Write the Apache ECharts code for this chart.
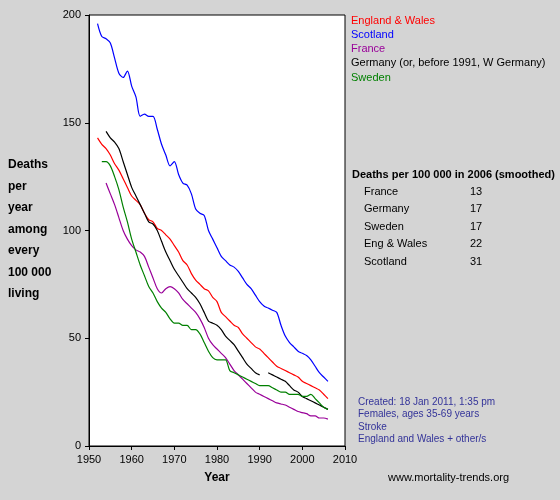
<!DOCTYPE html>
<html>
<head>
<meta charset="utf-8">
<script src="https://cdn.jsdelivr.net/npm/echarts@6/dist/echarts.min.js"></script>
<style>
  body { margin: 0; background: #d4d4d4; }
  #chart { width: 560px; height: 500px; }
</style>
</head>
<body>
<div id="chart"></div>
<script>
const years = [];
for (let y = 1952; y <= 2006; y++) years.push(y);

// values from 1952 to 2006, null where no data
const scotland = [196, 190, 189, 187, 180, 173, 171, 174, 167, 162, 153, 154, 153, 153, 147, 140, 135, 130, 132, 126, 122, 121, 117, 110, 108, 107, 100, 96, 92, 88, 86, 84, 83, 81, 78, 75, 73, 70, 67, 65, 64, 63, 62, 56, 51, 48, 46, 44, 43, 42, 40, 37, 34, 32, 30];
const englandWales = [143, 140, 138, 135, 131, 128, 124, 120, 116, 114, 112, 108, 105, 104, 101, 100, 98, 96, 93, 90, 86, 84, 80, 77, 75, 73, 72, 69, 67, 62, 60, 58, 56, 55, 52, 50, 48, 46, 45, 43, 41, 39, 37, 36, 35, 34, 33, 32, 30, 29, 28, 27, 26, 24, 22];
const germany = [null, null, 146, 143, 141, 138, 132, 126, 120, 116, 112, 108, 104, 103, 100, 95, 90, 86, 82, 79, 76, 73, 71, 69, 66, 62, 58, 57, 56, 54, 51, 49, 47, 44, 41, 38, 36, 34, 33, null, 34, 33, 32, 31, 30, 28, 26, 25, 23, 22, 21, 20, 19, 18, 17];
const sweden = [null, 132, 132, 130, 125, 119, 111, 104, 96, 90, 84, 79, 74, 71, 67, 64, 62, 59, 57, 57, 56, 56, 54, 54, 52, 48, 44, 41, 40, 40, 40, 35, 34, 33, 32, 31, 30, 29, 28, 28, 28, 27, 26, 25, 25, 24, 24, 24, 23, 23, 24, 22, 20, 18, 17];
const france = [null, null, 122, 117, 112, 106, 100, 96, 93, 91, 90, 88, 83, 78, 73, 71, 73, 74, 73, 71, 68, 66, 64, 62, 59, 55, 50, 47, 45, 43, 41, 38, 35, 33, 31, 29, 27, 25, 24, 23, 22, 21, 20, 19.5, 19, 18, 17, 16, 15.5, 15, 14, 14, 13, 13, 12.5];

const legendNames = ["England & Wales", "Scotland", "France", "Germany (or, before 1991, W Germany)", "Sweden"];
const legendColors = ["#ff0000", "#0000ff", "#990099", "#000000", "#008000"];
const tableNames = ["France", "Germany", "Sweden", "Eng & Wales", "Scotland"];
const tableValues = [13, 17, 17, 22, 31];
const notes = ["Created: 18 Jan 2011, 1:35 pm", "Females, ages 35-69 years", "Stroke", "England and Wales + other/s"];

const seriesData = [englandWales, scotland, france, germany, sweden];
const chart = echarts.init(document.getElementById("chart"));

const graphics = [];
legendNames.forEach((n, i) => {
  graphics.push({ type: "text", left: 351, top: 15 + i * 14.3,
    style: { text: n, fill: legendColors[i], font: "11px Arial" } });
});
graphics.push({ type: "text", left: 352, top: 169,
  style: { text: "Deaths per 100 000 in 2006 (smoothed)", fill: "#000", font: "bold 11px Arial" } });
tableNames.forEach((n, i) => {
  graphics.push({ type: "text", left: 364, top: 186 + i * 17.5, style: { text: n, fill: "#000", font: "11px Arial" } });
  graphics.push({ type: "text", left: 470, top: 186 + i * 17.5, style: { text: String(tableValues[i]), fill: "#000", font: "11px Arial" } });
});
notes.forEach((n, i) => {
  graphics.push({ type: "text", left: 358, top: 397 + i * 12.5, style: { text: n, fill: "#333399", font: "10px Arial" } });
});
graphics.push({ type: "text", left: 388, top: 472, style: { text: "www.mortality-trends.org", fill: "#000", font: "11px Arial" } });
graphics.push({ type: "text", left: 8, top: 154,
  style: { text: "Deaths\nper\nyear\namong\nevery\n100 000\nliving", fill: "#000", font: "bold 12px Arial", lineHeight: 21.5 } });

chart.setOption({
  animation: false,
  backgroundColor: "#d4d4d4",
  grid: { left: 89, right: 215, top: 15, bottom: 54, show: true, backgroundColor: "#fff", borderColor: "#000", borderWidth: 1 },
  xAxis: {
    type: "value", min: 1950, max: 2010, interval: 10,
    name: "Year", nameLocation: "middle", nameGap: 26,
    nameTextStyle: { fontWeight: "bold", fontSize: 12, color: "#000", fontFamily: "Arial" },
    axisLine: { lineStyle: { color: "#000" } },
    axisTick: { lineStyle: { color: "#000" }, length: 4 },
    axisLabel: { color: "#000", fontSize: 11, fontFamily: "Arial", formatter: v => String(v) },
    splitLine: { show: false }
  },
  yAxis: {
    type: "value", min: 0, max: 200, interval: 50,
    axisLine: { show: true, lineStyle: { color: "#000" } },
    axisTick: { show: true, lineStyle: { color: "#000" }, length: 4 },
    axisLabel: { color: "#000", fontSize: 11, fontFamily: "Arial" },
    splitLine: { show: false }
  },
  graphic: graphics,
  series: seriesData.map((d, i) => ({
    type: "line", name: legendNames[i], showSymbol: false, smooth: 0.3,
    connectNulls: false,
    lineStyle: { color: legendColors[i], width: 1.2 },
    data: years.map((y, j) => [y, d[j]])
  }))
});
</script>
</body>
</html>
